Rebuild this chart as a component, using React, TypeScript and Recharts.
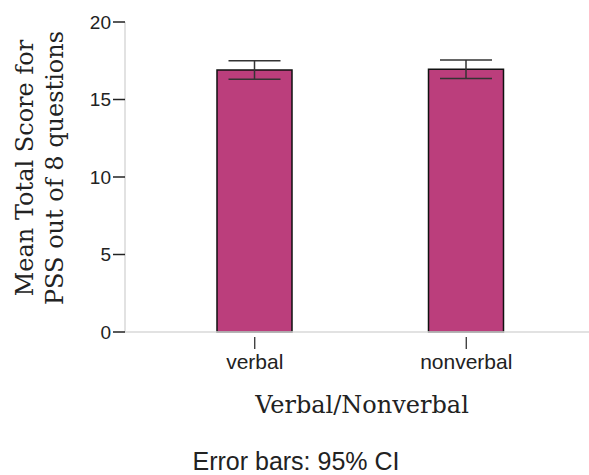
import { BarChart, Bar, XAxis, YAxis, ErrorBar, Customized } from "recharts"

const groups = ["verbal", "nonverbal"]
const means = [16.9, 16.95]
const ciErrors = [0.6, 0.6]
const yTicks = [0, 5, 10, 15, 20]

const SANS = "'Liberation Sans', Arial, sans-serif"
const SERIF = "'DejaVu Serif', serif"

const data = groups.map((g, i) => ({ group: g, mean: means[i], err: ciErrors[i] }))

function GroupTick(props: any) {
  const { x, y, payload } = props
  return (
    <g>
      <line x1={x} x2={x} y1={y + 3} y2={y + 15} stroke="#222" strokeWidth={1.2} />
      <text x={x} y={y + 35} textAnchor="middle" fontFamily={SANS} fontSize={21} fill="#222">
        {payload.value}
      </text>
    </g>
  )
}

function Titles() {
  return (
    <g>
      <text transform="translate(33,168) rotate(-90)" textAnchor="middle" fontFamily={SERIF} fontSize={24} fill="#222">
        Mean Total Score for
      </text>
      <text transform="translate(63,168) rotate(-90)" textAnchor="middle" fontFamily={SERIF} fontSize={24} fill="#222">
        PSS out of 8 questions
      </text>
      <text x={362} y={413} textAnchor="middle" fontFamily={SERIF} fontSize={24} fill="#222">
        Verbal/Nonverbal
      </text>
      <text x={296} y={470} textAnchor="middle" fontFamily={SANS} fontSize={25} fill="#222">
        Error bars: 95% CI
      </text>
    </g>
  )
}

export default function App() {
  return (
    <div style={{ position: "absolute", left: 0, top: 0, background: "#fff" }}>
      <BarChart
        width={589}
        height={475}
        data={data}
        margin={{ top: 22, right: 0, bottom: 0, left: 0 }}
        barSize={75}
      >
        <XAxis
          dataKey="group"
          height={143}
          padding={{ left: 24, right: 17 }}
          axisLine={{ stroke: "#d9d9d9", strokeWidth: 1.5 }}
          tickLine={false}
          tickSize={0}
          tick={<GroupTick />}
        />
        <YAxis
          width={125}
          domain={[0, 20]}
          ticks={yTicks}
          interval={0}
          axisLine={{ stroke: "#d9d9d9", strokeWidth: 1.5 }}
          tickLine={{ stroke: "#222", strokeWidth: 1.5 }}
          tickSize={12}
          tickMargin={2}
          tick={{ fontFamily: SANS, fontSize: 19, fill: "#222" }}
        />
        <Bar dataKey="mean" fill="#bb3e7c" stroke="#111" strokeWidth={1.5} isAnimationActive={false}>
          <ErrorBar dataKey="err" width={26} stroke="#333" strokeWidth={1.5} direction="y" />
        </Bar>
        <Customized component={Titles} />
      </BarChart>
    </div>
  )
}
